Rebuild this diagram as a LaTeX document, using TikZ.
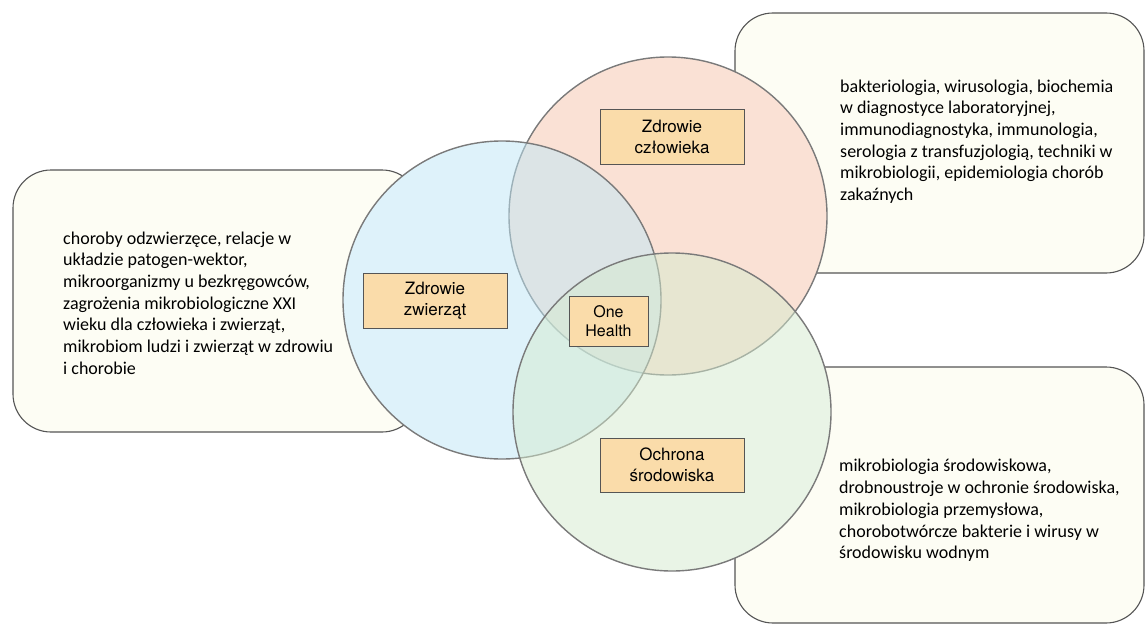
\documentclass[tikz,border=0pt]{standalone}
\usepackage{fontspec}
\setmainfont{Carlito}
\newfontfamily\tagfont{TeX Gyre Heros}
\usepackage{tikz}
\usetikzlibrary{positioning, calc}

\definecolor{noteFill}{HTML}{FDFDF4}
\definecolor{noteLine}{HTML}{555555}
\definecolor{tagFill}{HTML}{FADCAA}
\definecolor{humanCol}{RGB}{247,197,173}
\definecolor{animalCol}{RGB}{191,231,247}
\definecolor{envCol}{RGB}{213,235,207}
\definecolor{ringLine}{HTML}{7A7A7A}

\begin{document}
\begin{tikzpicture}[
    x=1pt, y=-1pt,
    % Node Styles
    note/.style={rectangle, draw=noteLine, line width=1.1pt, fill=noteFill, rounded corners=38pt, inner sep=0pt},
    notetext/.style={anchor=west, align=left, inner sep=0pt, font=\fontsize{18}{21.7}\selectfont},
    ring/.style={circle, draw=ringLine, line width=1.4pt, fill opacity=0.5, minimum size=318pt, inner sep=0pt},
    tag/.style={rectangle, draw=noteLine, line width=0.7pt, fill=tagFill, minimum width=144pt, minimum height=55pt, align=center, inner sep=0pt, font=\tagfont\fontsize{17}{21}\selectfont}
]
\useasboundingbox (0,0) rectangle (1145,626);

% --- 1. Circle centres ---
\coordinate (cH) at (668,216);
\coordinate (cA) at (502,300);
\coordinate (cE) at (672,412);

% --- 2. Note boxes (behind the circles) ---
\node[note, minimum width=407pt, minimum height=262pt] (noteA) at (216.5,301) {};
\node[note, minimum width=409pt, minimum height=260pt] (noteH) at (939.5,143) {};
\node[note, minimum width=409pt, minimum height=256pt] (noteE) at (939.5,495) {};

\node[notetext] (textA) at (63,303) {choroby odzwierzęce, relacje w\\układzie patogen-wektor,\\mikroorganizmy u bezkręgowców,\\zagrożenia mikrobiologiczne XXI\\wieku dla człowieka i zwierząt,\\mikrobiom ludzi i zwierząt w zdrowiu\\i chorobie};
\node[notetext] (textH) at (840,141.5) {bakteriologia, wirusologia, biochemia\\w diagnostyce laboratoryjnej,\\immunodiagnostyka, immunologia,\\serologia z transfuzjologią, techniki w\\mikrobiologii, epidemiologia chorób\\zakaźnych};
\node[notetext] (textE) at (839,510.5) {mikrobiologia środowiskowa,\\drobnoustroje w ochronie środowiska,\\mikrobiologia przemysłowa,\\chorobotwórcze bakterie i wirusy w\\środowisku wodnym};

% --- 3. Circles ---
% white discs so the notes do not show through
\foreach \c in {cH, cA, cE}
    \fill[white] (\c) circle[radius=159];
\node[ring, fill=humanCol] (human) at (cH) {};
\node[ring, fill=animalCol] (animals) at (cA) {};
\node[ring, fill=envCol] (env) at (cE) {};

% --- 4. Tags ---
\node[tag] (humanTag) at (672,136.5) {Zdrowie\\człowieka};
\node[tag] (animalTag) at (435,300.5) {Zdrowie\\zwierząt};
\node[tag, minimum width=79pt, minimum height=50pt, font=\tagfont\fontsize{16}{19}\selectfont] (oneTag) at (608.5,321) {One\\Health};
\node[tag, minimum height=54pt] (envTag) at (672,465) {Ochrona\\środowiska};

\end{tikzpicture}
\end{document}
